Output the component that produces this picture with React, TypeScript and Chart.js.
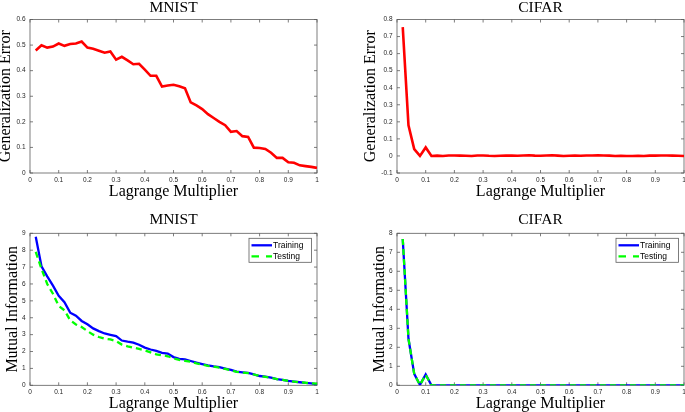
import React, { useEffect, useRef } from "react";
import { Chart, registerables } from "chart.js";

Chart.register(...registerables);

// ---------------- data ----------------
const lagrange = [
  0.02, 0.04, 0.06, 0.08, 0.1, 0.12, 0.14, 0.16, 0.18, 0.2,
  0.22, 0.24, 0.26, 0.28, 0.3, 0.32, 0.34, 0.36, 0.38, 0.4,
  0.42, 0.44, 0.46, 0.48, 0.5, 0.52, 0.54, 0.56, 0.58, 0.6,
  0.62, 0.64, 0.66, 0.68, 0.7, 0.72, 0.74, 0.76, 0.78, 0.8,
  0.82, 0.84, 0.86, 0.88, 0.9, 0.92, 0.94, 0.96, 0.98, 1.0,
];

const mnistGenError = [
  0.479, 0.499, 0.49, 0.494, 0.506, 0.497, 0.504, 0.506, 0.514, 0.49,
  0.486, 0.478, 0.47, 0.475, 0.443, 0.454, 0.44, 0.425, 0.427, 0.404,
  0.38, 0.38, 0.338, 0.342, 0.345, 0.339, 0.331, 0.276, 0.264, 0.25,
  0.23, 0.215, 0.2, 0.187, 0.161, 0.164, 0.144, 0.141, 0.099, 0.098,
  0.094, 0.079, 0.059, 0.059, 0.042, 0.04, 0.03, 0.027, 0.024, 0.02,
];

const cifarGenError = [
  0.755, 0.18, 0.04, 0.0, 0.05, 0.0, 0.002, 0.0, 0.003, 0.003,
  0.002, 0.001, 0.0, 0.003, 0.003, 0.001, 0.0, 0.001, 0.002, 0.002,
  0.001, 0.003, 0.004, 0.002, 0.001, 0.003, 0.004, 0.002, 0.0, 0.001,
  0.002, 0.001, 0.003, 0.003, 0.004, 0.003, 0.002, 0.0, 0.001, 0.0,
  0.0, 0.001, 0.0, 0.002, 0.002, 0.003, 0.003, 0.002, 0.001, 0.0,
];

const mnistMiTraining = [
  8.8, 7.05, 6.45, 5.9, 5.3, 4.92, 4.3, 4.12, 3.81, 3.61,
  3.37, 3.21, 3.07, 2.99, 2.91, 2.65, 2.58, 2.52, 2.4, 2.23,
  2.12, 2.04, 1.92, 1.88, 1.67, 1.56, 1.54, 1.44, 1.34, 1.26,
  1.18, 1.12, 1.07, 0.99, 0.91, 0.81, 0.77, 0.73, 0.65, 0.55,
  0.51, 0.45, 0.37, 0.32, 0.26, 0.22, 0.18, 0.14, 0.12, 0.06,
];

const mnistMiTesting = [
  7.9, 6.9, 6.0, 5.42, 4.7, 4.44, 3.85, 3.6, 3.45, 3.21,
  3.0, 2.86, 2.76, 2.72, 2.62, 2.41, 2.31, 2.23, 2.15, 2.07,
  1.95, 1.83, 1.78, 1.72, 1.6, 1.5, 1.45, 1.4, 1.3, 1.22,
  1.15, 1.1, 1.04, 0.97, 0.89, 0.8, 0.76, 0.72, 0.64, 0.55,
  0.5, 0.45, 0.37, 0.32, 0.26, 0.22, 0.18, 0.15, 0.12, 0.1,
];

const cifarMiTraining = [
  7.7, 2.45, 0.6, 0.02, 0.57, 0.0, 0.0, 0.0, 0.0, 0.0,
  0.0, 0.0, 0.0, 0.0, 0.0, 0.0, 0.0, 0.0, 0.0, 0.0,
  0.0, 0.0, 0.0, 0.0, 0.0, 0.0, 0.0, 0.0, 0.0, 0.0,
  0.0, 0.0, 0.0, 0.0, 0.0, 0.0, 0.0, 0.0, 0.0, 0.0,
  0.0, 0.0, 0.0, 0.0, 0.0, 0.0, 0.0, 0.0, 0.0, 0.0,
];

const cifarMiTesting = [
  7.7, 2.45, 0.6, 0.02, 0.55, 0.0, 0.0, 0.0, 0.0, 0.0,
  0.0, 0.0, 0.0, 0.0, 0.0, 0.0, 0.0, 0.0, 0.0, 0.0,
  0.0, 0.0, 0.0, 0.0, 0.0, 0.0, 0.0, 0.0, 0.0, 0.0,
  0.0, 0.0, 0.0, 0.0, 0.0, 0.0, 0.0, 0.0, 0.0, 0.0,
  0.0, 0.0, 0.0, 0.0, 0.0, 0.0, 0.0, 0.0, 0.0, 0.0,
];

const xTickValues = [0, 0.1, 0.2, 0.3, 0.4, 0.5, 0.6, 0.7, 0.8, 0.9, 1];
const xTickLabels = ["0", "0.1", "0.2", "0.3", "0.4", "0.5", "0.6", "0.7", "0.8", "0.9", "1"];

const mnistErrTickValues = [0, 0.1, 0.2, 0.3, 0.4, 0.5, 0.6];
const mnistErrTickLabels = ["0", "0.1", "0.2", "0.3", "0.4", "0.5", "0.6"];

const cifarErrTickValues = [-0.1, 0, 0.1, 0.2, 0.3, 0.4, 0.5, 0.6, 0.7, 0.8];
const cifarErrTickLabels = ["-0.1", "0", "0.1", "0.2", "0.3", "0.4", "0.5", "0.6", "0.7", "0.8"];

const mnistMiTickValues = [0, 1, 2, 3, 4, 5, 6, 7, 8, 9];
const mnistMiTickLabels = ["0", "1", "2", "3", "4", "5", "6", "7", "8", "9"];

const cifarMiTickValues = [0, 1, 2, 3, 4, 5, 6, 7, 8];
const cifarMiTickLabels = ["0", "1", "2", "3", "4", "5", "6", "7", "8"];

const seriesLabels = ["Training", "Testing"];
const xTitle = "Lagrange Multiplier";
const errTitle = "Generalization Error";
const miTitle = "Mutual Information";

// ---------------- styling helpers ----------------
const SERIF = '"Liberation Serif", "Times New Roman", serif';
const SANS = '"Liberation Sans", Arial, Helvetica, sans-serif';
const AXIS_COLOR = "#5c5c5c";
const TICK_TEXT = "#262626";

const toPoints = (ys: number[]) => lagrange.map((x, i) => ({ x, y: ys[i] }));

function boxPlugin() {
  return {
    id: "matlabBox",
    beforeDatasetsDraw(chart: any) {
      const { ctx, chartArea: a, scales } = chart;
      ctx.save();
      ctx.strokeStyle = AXIS_COLOR;
      ctx.lineWidth = 0.8;
      ctx.strokeRect(a.left, a.top, a.right - a.left, a.bottom - a.top);
      const tl = 3;
      ctx.beginPath();
      scales.x.ticks.forEach((t: any) => {
        const px = scales.x.getPixelForValue(t.value);
        ctx.moveTo(px, a.bottom);
        ctx.lineTo(px, a.bottom - tl);
        ctx.moveTo(px, a.top);
        ctx.lineTo(px, a.top + tl);
      });
      scales.y.ticks.forEach((t: any) => {
        const py = scales.y.getPixelForValue(t.value);
        ctx.moveTo(a.left, py);
        ctx.lineTo(a.left + tl, py);
        ctx.moveTo(a.right, py);
        ctx.lineTo(a.right - tl, py);
      });
      ctx.stroke();
      ctx.restore();
    },
  };
}

function boxLegendPlugin(show: boolean) {
  return {
    id: "boxLegend",
    afterDatasetsDraw(chart: any) {
      if (!show) return;
      const { ctx, chartArea: a } = chart;
      const w = 62.5;
      const h = 24;
      const left = a.right - 5.5 - w;
      const top = a.top + 5;
      ctx.save();
      ctx.fillStyle = "#ffffff";
      ctx.fillRect(left, top, w, h);
      ctx.strokeStyle = AXIS_COLOR;
      ctx.lineWidth = 0.8;
      ctx.strokeRect(left, top, w, h);
      chart.data.datasets.forEach((ds: any, i: number) => {
        const y = top + 7 + i * 11;
        ctx.strokeStyle = ds.borderColor;
        ctx.lineWidth = ds.borderWidth;
        ctx.setLineDash(ds.borderDash && ds.borderDash.length ? [7.5, 7] : []);
        ctx.beginPath();
        ctx.moveTo(left + 2.5, y);
        ctx.lineTo(left + 23, y);
        ctx.stroke();
        ctx.setLineDash([]);
        ctx.fillStyle = "#000000";
        ctx.font = `8.5px ${SANS}`;
        ctx.textBaseline = "middle";
        ctx.textAlign = "left";
        ctx.fillText(ds.label, left + 24, y + 0.5);
      });
      ctx.restore();
    },
  };
}

type PanelSpec = {
  title: string;
  yTitle: string;
  datasets: any[];
  yMin: number;
  yMax: number;
  yTickValues: number[];
  yTickLabels: string[];
  padRight: number;
  yAxisWidth: number;
  yTitlePad: number;
  xAxisHeight: number;
  xTitlePad: number;
  titlePadTop: number;
  titlePadBottom: number;
  legend: boolean;
};

function makeConfig(p: PanelSpec): any {
  return {
    type: "line",
    data: { datasets: p.datasets },
    options: {
      animation: false,
      responsive: false,
      maintainAspectRatio: false,
      events: [],
      layout: { padding: { left: 0, right: p.padRight, top: 0, bottom: 0 } },
      plugins: {
        legend: { display: false },
        tooltip: { enabled: false },
        title: {
          display: true,
          text: p.title,
          fullSize: false,
          color: "#000000",
          font: { family: SERIF, size: 15.5, weight: "normal", lineHeight: 1 },
          padding: { top: p.titlePadTop, bottom: p.titlePadBottom },
        },
      },
      scales: {
        x: {
          type: "linear",
          min: 0,
          max: 1,
          afterBuildTicks: (s: any) => {
            s.ticks = xTickValues.map((v) => ({ value: v }));
          },
          afterFit: (s: any) => {
            s.height = p.xAxisHeight;
          },
          grid: { display: false, drawTicks: false },
          border: { display: false },
          ticks: {
            autoSkip: false,
            maxRotation: 0,
            minRotation: 0,
            padding: 3.5,
            color: TICK_TEXT,
            font: { family: SANS, size: 6.5 },
            callback: (_v: any, i: number) => xTickLabels[i],
          },
          title: {
            display: true,
            text: xTitle,
            color: "#000000",
            font: { family: SERIF, size: 16, lineHeight: 1 },
            padding: { top: 0, bottom: p.xTitlePad },
          },
        },
        y: {
          type: "linear",
          min: p.yMin,
          max: p.yMax,
          afterBuildTicks: (s: any) => {
            s.ticks = p.yTickValues.map((v) => ({ value: v }));
          },
          afterFit: (s: any) => {
            s.width = p.yAxisWidth;
          },
          grid: { display: false, drawTicks: false },
          border: { display: false },
          ticks: {
            autoSkip: false,
            padding: 4.5,
            color: TICK_TEXT,
            font: { family: SANS, size: 6.5 },
            callback: (_v: any, i: number) => p.yTickLabels[i],
          },
          title: {
            display: true,
            text: p.yTitle,
            color: "#000000",
            font: { family: SERIF, size: 16, lineHeight: 1 },
            padding: { top: p.yTitlePad, bottom: 0 },
          },
        },
      },
    },
    plugins: [boxPlugin(), boxLegendPlugin(p.legend)],
  };
}

const redLine = (ys: number[]) => ({
  label: errTitle,
  data: toPoints(ys),
  borderColor: "#ff0000",
  borderWidth: 2.6,
  pointRadius: 0,
  fill: false,
  tension: 0,
});

const trainLine = (ys: number[]) => ({
  label: seriesLabels[0],
  data: toPoints(ys),
  borderColor: "#0000ff",
  borderWidth: 2.3,
  pointRadius: 0,
  fill: false,
  tension: 0,
  order: 2,
});

const testLine = (ys: number[]) => ({
  label: seriesLabels[1],
  data: toPoints(ys),
  borderColor: "#00ff00",
  borderWidth: 2.3,
  borderDash: [6, 4],
  pointRadius: 0,
  fill: false,
  tension: 0,
  order: 1,
});

function Panel(props: { spec: PanelSpec; left: number; top: number; width: number; height: number }) {
  const ref = useRef<HTMLCanvasElement | null>(null);
  useEffect(() => {
    if (!ref.current) return;
    const chart = new Chart(ref.current, makeConfig(props.spec));
    return () => chart.destroy();
  }, []);
  return (
    <canvas
      ref={ref}
      width={props.width}
      height={props.height}
      style={{ position: "absolute", left: props.left, top: props.top, width: props.width, height: props.height }}
    />
  );
}

export default function App() {
  const topLeft: PanelSpec = {
    title: "MNIST",
    yTitle: errTitle,
    datasets: [redLine(mnistGenError)],
    yMin: 0,
    yMax: 0.6,
    yTickValues: mnistErrTickValues,
    yTickLabels: mnistErrTickLabels,
    padRight: 23,
    yAxisWidth: 30,
    yTitlePad: -2,
    xAxisHeight: 32,
    xTitlePad: 5.2,
    titlePadTop: 0,
    titlePadBottom: 4,
    legend: false,
  };
  const topRight: PanelSpec = {
    title: "CIFAR",
    yTitle: errTitle,
    datasets: [redLine(cifarGenError)],
    yMin: -0.1,
    yMax: 0.8,
    yTickValues: cifarErrTickValues,
    yTickLabels: cifarErrTickLabels,
    padRight: 6,
    yAxisWidth: 57,
    yTitlePad: 23,
    xAxisHeight: 32,
    xTitlePad: 5.2,
    titlePadTop: 0,
    titlePadBottom: 4,
    legend: false,
  };
  const bottomLeft: PanelSpec = {
    title: "MNIST",
    yTitle: miTitle,
    datasets: [trainLine(mnistMiTraining), testLine(mnistMiTesting)],
    yMin: 0,
    yMax: 9,
    yTickValues: mnistMiTickValues,
    yTickLabels: mnistMiTickLabels,
    padRight: 23,
    yAxisWidth: 30,
    yTitlePad: 5,
    xAxisHeight: 26.7,
    xTitlePad: 0,
    titlePadTop: 7.25,
    titlePadBottom: 5.55,
    legend: true,
  };
  const bottomRight: PanelSpec = {
    title: "CIFAR",
    yTitle: miTitle,
    datasets: [trainLine(cifarMiTraining), testLine(cifarMiTesting)],
    yMin: 0,
    yMax: 8,
    yTickValues: cifarMiTickValues,
    yTickLabels: cifarMiTickLabels,
    padRight: 6,
    yAxisWidth: 57,
    yTitlePad: 31.5,
    xAxisHeight: 26.7,
    xTitlePad: 0,
    titlePadTop: 7.25,
    titlePadBottom: 5.55,
    legend: true,
  };

  return (
    <div
      style={{
        position: "fixed",
        left: 0,
        top: 0,
        width: 685,
        height: 412,
        overflow: "hidden",
        background: "#ffffff",
      }}
    >
      <Panel spec={topLeft} left={0} top={0} width={340} height={205} />
      <Panel spec={topRight} left={340} top={0} width={350} height={205} />
      <Panel spec={bottomLeft} left={0} top={205} width={340} height={207} />
      <Panel spec={bottomRight} left={340} top={205} width={350} height={207} />
    </div>
  );
}
